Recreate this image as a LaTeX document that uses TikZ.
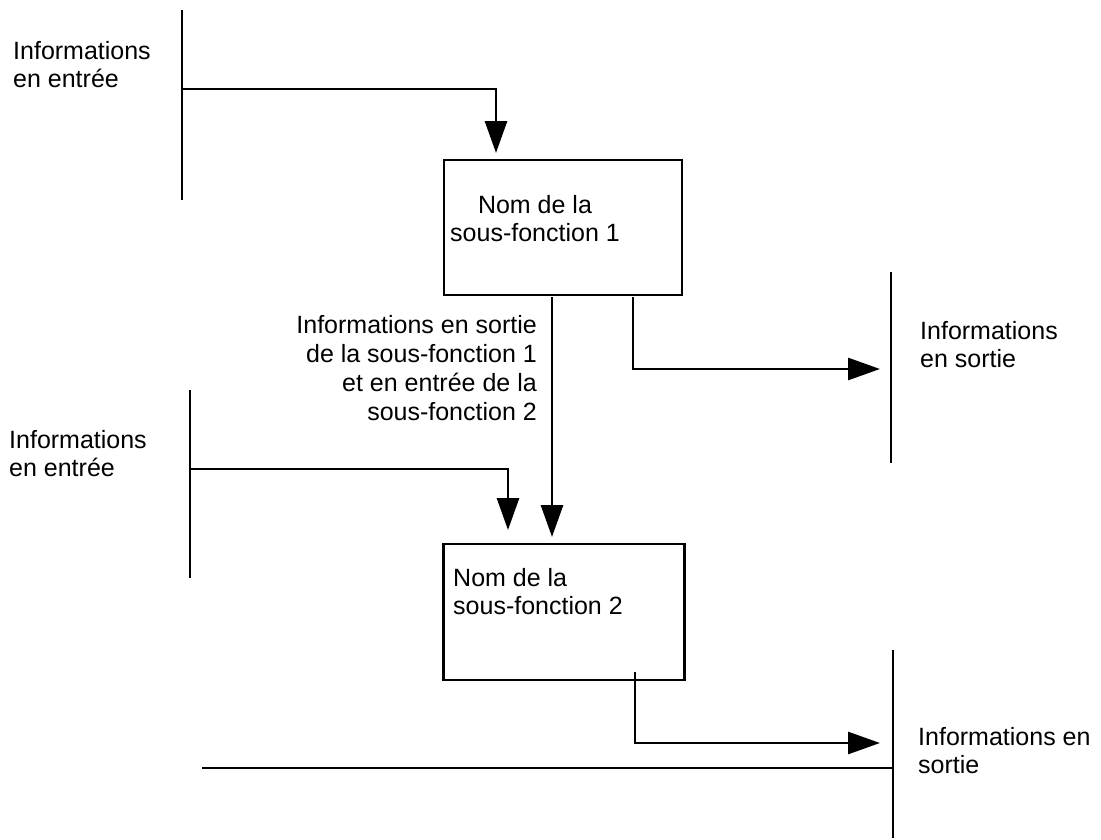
\documentclass[tikz,border=0pt]{standalone}
\usepackage{fontspec}
\setmainfont{Liberation Sans}
\usetikzlibrary{arrows.meta}
\begin{document}
\begin{tikzpicture}[x=1pt,y=-1pt,
  line/.style={line width=2.8pt},
  arr/.style={line width=2.8pt,-{Triangle[length=32pt,width=22pt]}},
  box/.style={draw,line width=2.8pt,inner sep=0pt},
  lbl/.style={inner sep=0pt,font=\fontsize{25}{28.5}\selectfont,align=left},
  lblr/.style={inner sep=0pt,font=\fontsize{25}{29}\selectfont,align=right}]
\useasboundingbox (0,0) rectangle (1101,839);
% boxes
\node[box,minimum width=238pt,minimum height=135pt] (b1) at (563,227.5) {};
\node[lbl,align=center,anchor=north] (t1) at (535,195) {Nom de la\\sous-fonction 1};
\node[box,minimum width=241pt,minimum height=136pt] (b2) at (564,612) {};
\node[lbl,anchor=north west] (t2) at (453,568) {Nom de la\\sous-fonction 2};
% input 1
\coordinate (i1a) at (182,10);
\coordinate (i1b) at (182,200);
\coordinate (i1j) at (182,89);
\coordinate (i1c) at (496,89);
\coordinate (i1t) at (496,153);
\draw[line] (i1a) -- (i1b);
\draw[arr] (i1j) -- (i1c) -- (i1t);
\node[lbl,anchor=north west] (l1) at (13,41) {Informations\\en entrée};
% output 1
\coordinate (o1a) at (633,297);
\coordinate (o1c) at (633,369);
\coordinate (o1t) at (880,369);
\draw[arr] (o1a) -- (o1c) -- (o1t);
\coordinate (r1a) at (891,272);
\coordinate (r1b) at (891,463);
\draw[line] (r1a) -- (r1b);
\node[lbl,anchor=north west] (l2) at (920,321) {Informations\\en sortie};
% link 1 -> 2
\coordinate (m1) at (552,297);
\coordinate (m2) at (552,537);
\draw[arr] (m1) -- (m2);
\node[lblr,anchor=north east] (l3) at (537,315) {Informations en sortie\\de la sous-fonction 1\\et en entrée de la\\sous-fonction 2};
% input 2
\coordinate (i2a) at (190,390);
\coordinate (i2b) at (190,578);
\coordinate (i2j) at (190,469);
\coordinate (i2c) at (508,469);
\coordinate (i2t) at (508,530);
\draw[line] (i2a) -- (i2b);
\draw[arr] (i2j) -- (i2c) -- (i2t);
\node[lbl,anchor=north west] (l4) at (9,430) {Informations\\en entrée};
% output 2
\coordinate (o2a) at (635,672);
\coordinate (o2c) at (635,743);
\coordinate (o2t) at (880,743);
\draw[arr] (o2a) -- (o2c) -- (o2t);
\coordinate (r2a) at (893,650);
\coordinate (r2b) at (893,838);
\coordinate (r2j) at (893,768);
\coordinate (h2) at (202,768);
\draw[line] (r2a) -- (r2b);
\draw[line] (h2) -- (r2j);
\node[lbl,anchor=north west] (l5) at (918,727) {Informations en\\sortie};
\end{tikzpicture}
\end{document}
